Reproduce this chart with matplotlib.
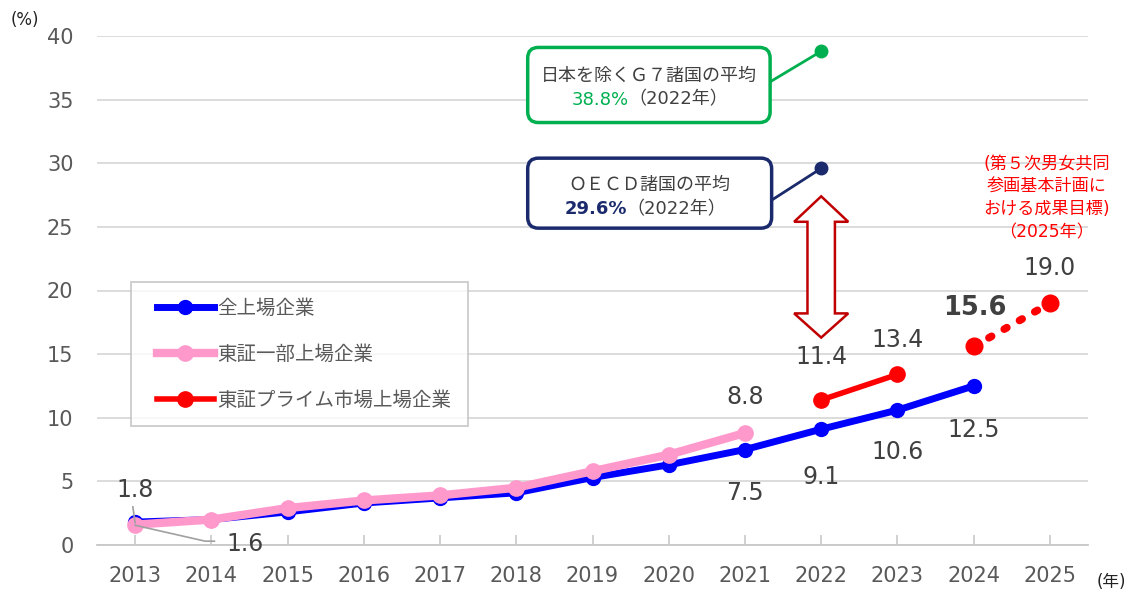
import matplotlib
matplotlib.use("Agg")
import matplotlib.pyplot as plt
from matplotlib.patches import FancyBboxPatch, Polygon
from matplotlib.legend_handler import HandlerLine2D
import numpy as np

plt.rcParams['font.family'] = ['DejaVu Sans', 'Noto Sans CJK JP']

# ---------------- data ----------------
years = [2013, 2014, 2015, 2016, 2017, 2018, 2019, 2020, 2021, 2022, 2023, 2024, 2025]
all_listed_years = [2013, 2014, 2015, 2016, 2017, 2018, 2019, 2020, 2021, 2022, 2023, 2024]
all_listed = [1.8, 2.0, 2.6, 3.3, 3.7, 4.1, 5.3, 6.3, 7.5, 9.1, 10.6, 12.5]
tse1_years = [2013, 2014, 2015, 2016, 2017, 2018, 2019, 2020, 2021]
tse1 = [1.6, 2.0, 2.9, 3.5, 3.9, 4.5, 5.8, 7.1, 8.8]
prime_years = [2022, 2023]
prime = [11.4, 13.4]
target_years = [2024, 2025]
target = [15.6, 19.0]
g7_year, g7_value = 2022, 38.8
oecd_year, oecd_value = 2022, 29.6

series_names = ['全上場企業', '東証一部上場企業', '東証プライム市場上場企業']
yticks = [0, 5, 10, 15, 20, 25, 30, 35, 40]

# colours
BLUE = '#0000ff'
PINK = '#ff99cc'
RED = '#ff0000'
GREEN = '#00b050'
NAVY = '#1a2a6c'
DARKRED = '#c00000'
TXT = '#404040'
TICK = '#595959'

fig = plt.figure(figsize=(11.3, 5.92), dpi=100)
ax = fig.add_axes([97/1130, 47/592, 991/1130, 509/592])
ax.set_xlim(2012.5, 2025.5)
ax.set_ylim(0, 40)

# grid / axes styling
ax.set_yticks(yticks)
ax.set_xticks(years)
ax.set_xticklabels([str(y) for y in years])
ax.yaxis.grid(True, color='#d9d9d9', lw=1.3)
ax.set_axisbelow(True)
for s in ['left', 'right', 'top']:
    ax.spines[s].set_visible(False)
ax.spines['bottom'].set_color('#c8c8c8')
ax.spines['bottom'].set_linewidth(1.3)
ax.tick_params(axis='y', length=0, pad=17, labelsize=15, labelcolor=TICK)
ax.tick_params(axis='x', direction='in', length=7, color='#c8c8c8', width=1.2,
               pad=15, labelsize=15, labelcolor=TICK)

# lines
l1, = ax.plot(all_listed_years, all_listed, color=BLUE, lw=5, marker='o', ms=10, zorder=3,
              label=series_names[0])
l2, = ax.plot(tse1_years, tse1, color=PINK, lw=6, marker='o', ms=11, zorder=4,
              label=series_names[1])
l3, = ax.plot(prime_years, prime, color=RED, lw=4, marker='o', ms=11, zorder=5,
              label=series_names[2])
ax.plot(target_years, target, color=RED, lw=5.5, ls=(0, (0.4, 1.9)),
        dash_capstyle='round', zorder=5)
ax.plot(target_years, target, color=RED, lw=0, marker='o', ms=12, zorder=6)

# G7 / OECD points with boxes
ax.plot([g7_year], [g7_value], marker='o', ms=9, color=GREEN, zorder=6)
ax.plot([oecd_year], [oecd_value], marker='o', ms=9, color=NAVY, zorder=6)
ax.plot([2021.33, g7_year], [36.4, g7_value], color=GREEN, lw=2, zorder=5)
ax.plot([2021.35, oecd_year], [27.1, oecd_value], color=NAVY, lw=2, zorder=5)

asp = 76.23 / 12.725
box_g = FancyBboxPatch((2018.15, 33.2), 3.18, 5.9,
                       boxstyle='round,pad=0,rounding_size=0.14', mutation_aspect=asp,
                       fc='white', ec=GREEN, lw=2.5, zorder=6)
box_o = FancyBboxPatch((2018.15, 24.9), 3.2, 5.5,
                       boxstyle='round,pad=0,rounding_size=0.14', mutation_aspect=asp,
                       fc='white', ec=NAVY, lw=2.5, zorder=6)
ax.add_patch(box_g)
ax.add_patch(box_o)

BF = 13
ax.text(2019.74, 36.9, '日本を除くＧ７諸国の平均', ha='center', va='center',
        fontsize=BF, color=TXT, zorder=7)
ax.text(2019.47, 35.0, f'{g7_value}%', ha='right', va='center', fontsize=BF,
        color=GREEN, zorder=7)
ax.text(2019.47, 35.0, '（2022年）', ha='left', va='center', fontsize=BF,
        color=TXT, zorder=7)
ax.text(2019.74, 28.3, 'ＯＥＣＤ諸国の平均', ha='center', va='center',
        fontsize=BF, color=TXT, zorder=7)
ax.text(2019.45, 26.4, f'{oecd_value}%', ha='right', va='center', fontsize=BF,
        color=NAVY, fontweight='bold', zorder=7)
ax.text(2019.45, 26.4, '（2022年）', ha='left', va='center', fontsize=BF,
        color=TXT, zorder=7)

# double arrow (hollow)
cx = 2022
hw, sw = 0.355, 0.18
y_top, y_sh_top, y_sh_bot, y_bot = 27.4, 25.4, 18.2, 16.3
arrow = Polygon([(cx, y_top), (cx + hw, y_sh_top), (cx + sw, y_sh_top), (cx + sw, y_sh_bot),
                 (cx + hw, y_sh_bot), (cx, y_bot), (cx - hw, y_sh_bot), (cx - sw, y_sh_bot),
                 (cx - sw, y_sh_top), (cx - hw, y_sh_top)], closed=True,
                fc='white', ec=DARKRED, lw=1.8, zorder=5)
ax.add_patch(arrow)

# red note
ax.text(2024.96, 23.9, '(第５次男女共同\n参画基本計画に\nおける成果目標)\n（2025年）',
        ha='center', va='bottom', fontsize=12.3, color=RED, linespacing=1.32, zorder=7)

# data labels
def lab(x, y, txt, **kw):
    ax.text(x, y, txt, ha='center', va='center', fontsize=17, color=TXT, zorder=8, **kw)

lab(2013, all_listed[0] + 2.5, f'{all_listed[0]}')
lab(2014.44, tse1[0] - 1.5, f'{tse1[0]}')
ax.plot([2012.97, 2013.0], [3.0, 1.75], color='#a0a0a0', lw=1.2, zorder=7)
ax.plot([2013.0, 2013.92, 2014.04], [1.55, 0.3, 0.3], color='#a0a0a0', lw=1.2, zorder=7)

lab(2021, tse1[8] + 2.8, f'{tse1[8]}')
lab(2021, all_listed[8] - 3.4, f'{all_listed[8]}')
lab(2022, all_listed[9] - 3.75, f'{all_listed[9]}')
lab(2022, prime[0] + 3.4, f'{prime[0]}')
lab(2023, all_listed[10] - 3.3, f'{all_listed[10]}')
lab(2023, prime[1] + 2.7, f'{prime[1]}')
lab(2024, all_listed[11] - 3.5, f'{all_listed[11]}')
ax.text(2024.02, target[0] + 3.0, f'{target[0]}', ha='center', va='center', fontsize=18.5,
        color=TXT, fontweight='bold', zorder=8)
lab(2025, target[1] + 2.8, f'{target[1]}')

# unit labels
fig.text(25/1130, 1 - 20/592, '(%)', ha='center', va='center', fontsize=12, color='#222222')
fig.text(1111/1130, 1 - 582/592, '(年)', ha='center', va='center', fontsize=12, color='#222222')

# legend
hmap = {l1: HandlerLine2D(xpad=0.5), l2: HandlerLine2D(xpad=0.5), l3: HandlerLine2D(xpad=0.5)}
leg = ax.legend(handles=[l1, l2, l3], loc='upper left', bbox_to_anchor=(0.0343, 0.5167),
                borderaxespad=0, fontsize=14, frameon=True, fancybox=False,
                edgecolor='#bfbfbf', handlelength=3.4, handletextpad=0.2,
                labelspacing=1.4, borderpad=0.85, handler_map=hmap)
leg.get_frame().set_linewidth(1.3)
for t in leg.get_texts():
    t.set_color(TICK)
leg.set_zorder(9)

fig.savefig('out.png', dpi=100)
